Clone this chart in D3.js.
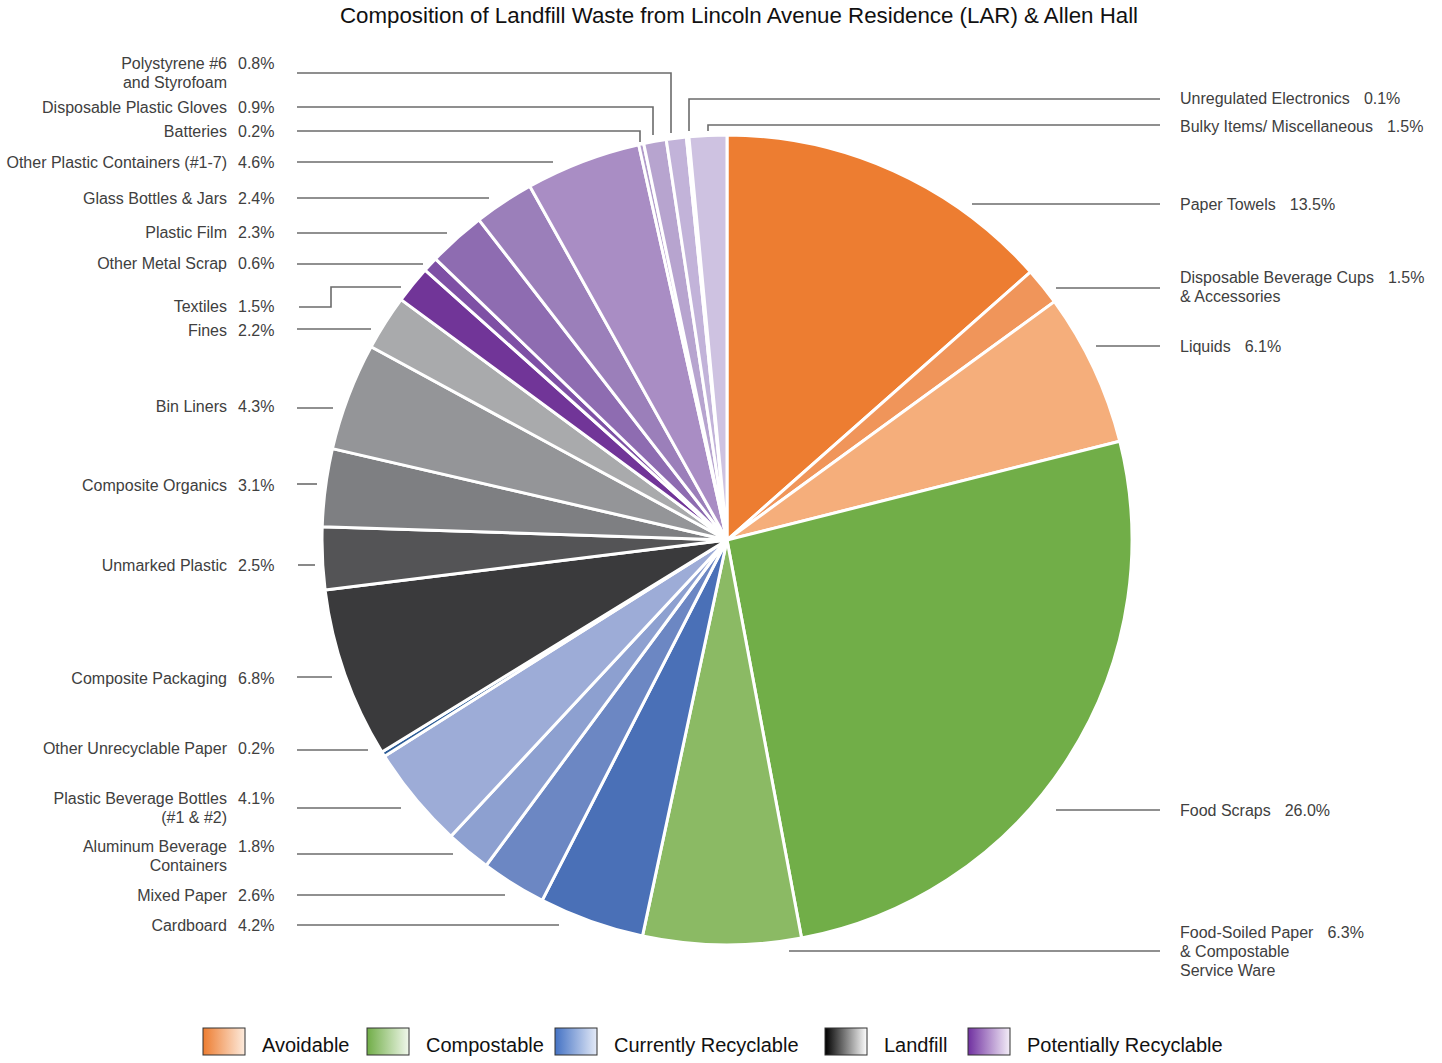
<!DOCTYPE html>
<html>
<head>
<meta charset="utf-8">
<script src="https://cdn.jsdelivr.net/npm/d3@7/dist/d3.min.js"></script>
<style>
  html, body { margin: 0; padding: 0; background: #fff; }
  svg { display: block; }
  text { font-family: "Liberation Sans", Arial, sans-serif; fill: #404040; }
</style>
</head>
<body>
<svg id="chart" width="1442" height="1063"></svg>
<script>
// Waste categories, clockwise from 12 o'clock
const categories = [
  "Paper Towels", "Disposable Beverage Cups & Accessories", "Liquids",
  "Food Scraps", "Food-Soiled Paper & Compostable Service Ware",
  "Cardboard", "Mixed Paper", "Aluminum Beverage Containers",
  "Plastic Beverage Bottles (#1 & #2)", "Other Unrecyclable Paper",
  "Composite Packaging", "Unmarked Plastic", "Composite Organics",
  "Bin Liners", "Fines", "Textiles", "Other Metal Scrap", "Plastic Film",
  "Glass Bottles & Jars", "Other Plastic Containers (#1-7)", "Batteries",
  "Disposable Plastic Gloves", "Polystyrene #6 and Styrofoam",
  "Unregulated Electronics", "Bulky Items/ Miscellaneous"
];
// Share of landfill waste, percent
const values = [
  13.5, 1.5, 6.1,
  26.0, 6.3,
  4.2, 2.6, 1.8, 4.1, 0.2,
  6.8, 2.5, 3.1, 4.3, 2.2,
  1.5, 0.6, 2.3, 2.4, 4.6, 0.2, 0.9, 0.8, 0.1, 1.5
];
const groupNames = ["Avoidable", "Compostable", "Currently Recyclable", "Landfill", "Potentially Recyclable"];

// Slice fills (style), one per category
const sliceColors = [
  "#ED7D31", "#F0955A", "#F5AE7B",
  "#71AE48", "#8BBA64",
  "#4A70B7", "#6C87C3", "#8DA0D0", "#9DACD7", "#2C5C97",
  "#3A3A3C", "#545456", "#7E7F82", "#949598", "#A9AAAC",
  "#713598", "#7E50A5", "#8E6CB1", "#9B7FBA", "#A98DC4", "#B19BCA", "#B7A4CF", "#C2B3D9", "#C9BCDD", "#CEC2E1"
];
const legendColors = ["#ED7D31", "#70AD47", "#4472C4", "#000000", "#7030A0"];
const legendEnds = ["#FDEBDD", "#F1F8EC", "#E4EAF7", "#FFFFFF", "#F4EEF8"];

// Label placement: side, text lines, anchor y of first line, leader polyline
const labelLayout = [
  { side: "R", lines: ["Paper Towels"], y: 204, leader: [[972, 204], [1160, 204]] },
  { side: "R", lines: ["Disposable Beverage Cups", "& Accessories"], y: 277, leader: [[1056, 288], [1160, 288]] },
  { side: "R", lines: ["Liquids"], y: 346, leader: [[1096, 346], [1160, 346]] },
  { side: "R", lines: ["Food Scraps"], y: 810, leader: [[1056, 810], [1160, 810]] },
  { side: "R", lines: ["Food-Soiled Paper", "& Compostable", "Service Ware"], y: 932, leader: [[789, 951], [1160, 951]] },
  { side: "L", lines: ["Cardboard"], y: 925, leader: [[297, 925], [559, 925]] },
  { side: "L", lines: ["Mixed Paper"], y: 895, leader: [[297, 895], [505, 895]] },
  { side: "L", lines: ["Aluminum Beverage", "Containers"], y: 846, leader: [[297, 854], [453, 854]] },
  { side: "L", lines: ["Plastic Beverage Bottles", "(#1 & #2)"], y: 798, leader: [[297, 808], [401, 808]] },
  { side: "L", lines: ["Other Unrecyclable Paper"], y: 748, leader: [[297, 750], [368, 750]] },
  { side: "L", lines: ["Composite Packaging"], y: 678, leader: [[297, 677], [332, 677]] },
  { side: "L", lines: ["Unmarked Plastic"], y: 565, leader: [[298, 565], [315, 565]] },
  { side: "L", lines: ["Composite Organics"], y: 485, leader: [[297, 484], [317, 484]] },
  { side: "L", lines: ["Bin Liners"], y: 406, leader: [[297, 408], [333, 408]] },
  { side: "L", lines: ["Fines"], y: 330, leader: [[297, 329], [371, 329]] },
  { side: "L", lines: ["Textiles"], y: 306, leader: [[299, 307], [331, 307], [331, 287], [401, 287]] },
  { side: "L", lines: ["Other Metal Scrap"], y: 263, leader: [[297, 264], [423, 264]] },
  { side: "L", lines: ["Plastic Film"], y: 232, leader: [[297, 233], [447, 233]] },
  { side: "L", lines: ["Glass Bottles & Jars"], y: 198, leader: [[297, 198], [489, 198]] },
  { side: "L", lines: ["Other Plastic Containers (#1-7)"], y: 162, leader: [[297, 162], [553, 162]] },
  { side: "L", lines: ["Batteries"], y: 131, leader: [[297, 131], [640, 131], [640, 142]] },
  { side: "L", lines: ["Disposable Plastic Gloves"], y: 107, leader: [[297, 107], [653, 107], [653, 135]] },
  { side: "L", lines: ["Polystyrene #6", "and Styrofoam"], y: 63, leader: [[297, 73], [671, 73], [671, 133]] },
  { side: "R", lines: ["Unregulated Electronics"], y: 98, leader: [[1160, 99], [689, 99], [689, 131]] },
  { side: "R", lines: ["Bulky Items/ Miscellaneous"], y: 126, leader: [[1160, 125], [708, 125], [708, 131]] }
];

const W = 1442, H = 1063;
const cx = 727, cy = 540, R = 405;
const svg = d3.select("#chart");

// Title
svg.append("text")
  .attr("x", 739).attr("y", 23)
  .attr("text-anchor", "middle")
  .style("font-size", "22.3px")
  .style("fill", "#111")
  .text("Composition of Landfill Waste from Lincoln Avenue Residence (LAR) & Allen Hall");

// Pie
const pie = d3.pie().sort(null).value(d => d).startAngle(0).endAngle(2 * Math.PI);
const arc = d3.arc().innerRadius(0).outerRadius(R);
const arcs = pie(values);

const g = svg.append("g").attr("transform", `translate(${cx},${cy})`);
g.selectAll("path.slice")
  .data(arcs)
  .join("path")
  .attr("class", "slice")
  .attr("d", arc)
  .attr("fill", (d, i) => sliceColors[i])
  .attr("stroke", "#fff")
  .attr("stroke-width", 3)
  .attr("stroke-linejoin", "round");

// Leader lines
const line = d3.line();
svg.append("g").selectAll("path")
  .data(labelLayout)
  .join("path")
  .attr("d", d => line(d.leader))
  .attr("fill", "none")
  .attr("stroke", "#6b6b6b")
  .attr("stroke-width", 1.6);

// Labels
const fmt = v => d3.format(".1f")(v) + "%";
const lh = 19.3;
const labels = svg.append("g").style("font-size", "16px");
labelLayout.forEach((L, i) => {
  if (L.side === "L") {
    L.lines.forEach((t, k) => {
      labels.append("text")
        .attr("x", 227).attr("y", L.y + k * lh)
        .attr("dy", "0.35em")
        .attr("text-anchor", "end")
        .text(t);
    });
    labels.append("text")
      .attr("x", 238).attr("y", L.y)
      .attr("dy", "0.35em")
      .text(fmt(values[i]));
  } else {
    L.lines.forEach((t, k) => {
      const tx = labels.append("text")
        .attr("x", 1180).attr("y", L.y + k * lh)
        .attr("dy", "0.35em");
      tx.append("tspan").text(t);
      if (k === 0) tx.append("tspan").attr("dx", 14).text(fmt(values[i]));
    });
  }
});

// Legend with gradient swatches
const defs = svg.append("defs");
groupNames.forEach((n, i) => {
  const gr = defs.append("linearGradient").attr("id", "lg" + i)
    .attr("x1", "0%").attr("x2", "100%").attr("y1", "0%").attr("y2", "0%");
  gr.append("stop").attr("offset", "0%").attr("stop-color", legendColors[i]);
  gr.append("stop").attr("offset", "100%").attr("stop-color", legendEnds[i]);
});
const legendX = [203, 367, 555, 825, 968];
const lg = svg.append("g");
groupNames.forEach((n, i) => {
  lg.append("rect")
    .attr("x", legendX[i]).attr("y", 1028)
    .attr("width", 42).attr("height", 27)
    .attr("fill", `url(#lg${i})`)
    .attr("stroke", "#333").attr("stroke-width", 1);
  lg.append("text")
    .attr("x", legendX[i] + 59).attr("y", 1045)
    .attr("dy", "0.35em")
    .style("font-size", "20px")
    .style("fill", "#111")
    .text(n);
});
</script>
</body>
</html>
